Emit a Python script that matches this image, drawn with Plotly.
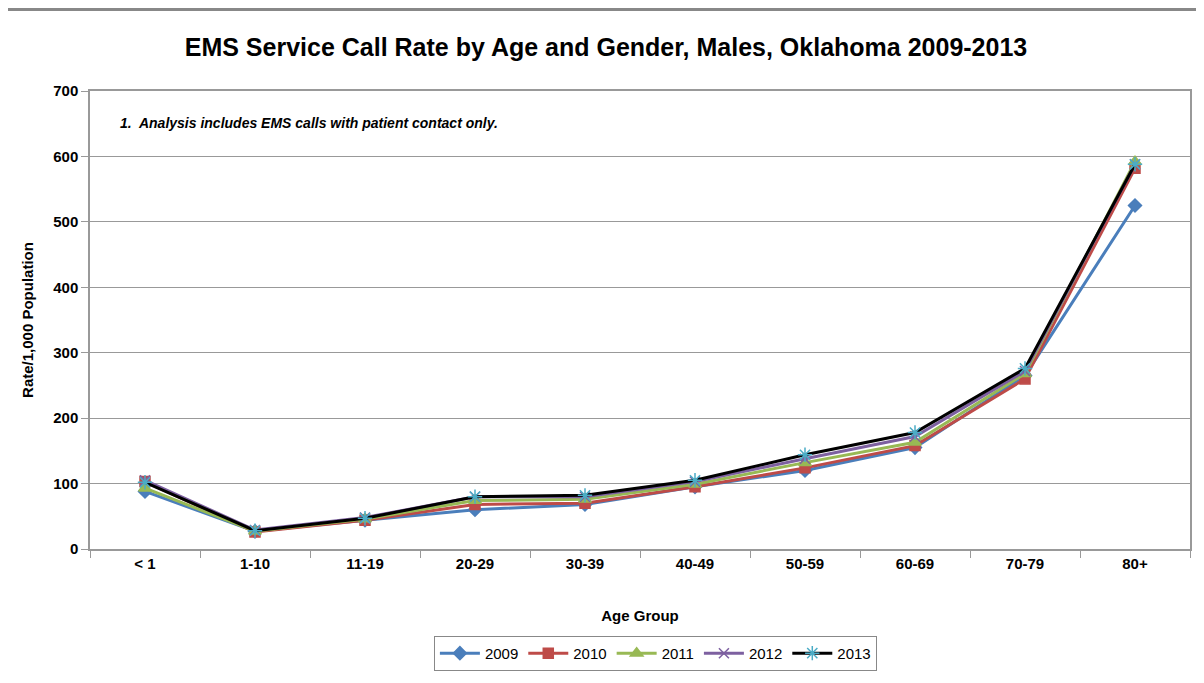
import plotly.graph_objects as go

age_groups = ["< 1", "1-10", "11-19", "20-29", "30-39", "40-49", "50-59", "60-69", "70-79", "80+"]
years = ["2009", "2010", "2011", "2012", "2013"]
rate_2009 = [88, 27, 44, 60, 68, 95, 120, 155, 265, 525]
rate_2010 = [103, 26, 44, 68, 70, 95, 124, 158, 260, 582]
rate_2011 = [93, 27, 46, 74, 76, 99, 132, 163, 268, 592]
rate_2012 = [105, 29, 48, 80, 80, 103, 138, 172, 272, 588]
rate_2013 = [102, 28, 47, 80, 82, 105, 144, 178, 276, 588]
y_ticks = [0, 100, 200, 300, 400, 500, 600, 700]

series = [rate_2009, rate_2010, rate_2011, rate_2012, rate_2013]
line_colors = ["#4A7EBB", "#BE4B48", "#98B954", "#7D60A0", "#000000"]
marker_colors = ["#4A7EBB", "#BE4B48", "#98B954", "#7D60A0", "#4BACC6"]
symbols = ["diamond", "square", "triangle-up", "x-thin-open", "asterisk-open"]
sizes = [10, 10, 11, 10, 12]

FONT = "Liberation Sans Narrow, Arial Narrow, Liberation Sans, Arial, sans-serif"

fig = go.Figure()
for yr, vals, lc, mc, sym, sz in zip(years, series, line_colors, marker_colors, symbols, sizes):
    fig.add_trace(go.Scatter(
        x=age_groups, y=vals, name=yr, mode="lines+markers",
        line=dict(color=lc, width=3),
        marker=dict(symbol=sym, size=sz, color=mc, line=dict(color=mc, width=1.5)),
    ))

fig.update_layout(
    width=1196, height=675,
    margin=dict(l=82, r=12, t=83, b=133),
    paper_bgcolor="white", plot_bgcolor="white",
    font=dict(family=FONT, color="black", size=14),
    title=dict(text="<b>EMS Service Call Rate by Age and Gender, Males, Oklahoma 2009-2013</b>",
               xref="container", x=0.5, xanchor="center", yref="container", y=0.942, yanchor="middle",
               font=dict(size=25, family=FONT, color="black")),
    showlegend=True,
    legend=dict(orientation="h", x=0.514, xanchor="center", y=-0.228, yanchor="middle",
                bordercolor="#888888", borderwidth=1, font=dict(size=15, family=FONT),
                itemwidth=40, tracegroupgap=0),
    xaxis=dict(
        type="category", showgrid=False, showline=True, linecolor="#999999", linewidth=1.5,
        mirror=True, ticks="outside", tickson="boundaries", ticklen=7, tickcolor="#999999",
        tickfont=dict(size=15, family=FONT, weight="bold"), range=[-0.5, 9.5],
        title=dict(text="<b>Age Group</b>", font=dict(size=15, family=FONT), standoff=40),
    ),
    yaxis=dict(
        range=[0, 700], tickvals=y_ticks, showgrid=True, gridcolor="#999999", gridwidth=1,
        showline=True, linecolor="#999999", linewidth=1.5, mirror=True,
        ticks="outside", ticklen=7, tickcolor="#999999", zeroline=False,
        tickfont=dict(size=15, family=FONT, weight="bold"),
        title=dict(text="<b>Rate/1,000 Population</b>", font=dict(size=15, family=FONT), standoff=16),
    ),
)

fig.add_annotation(
    text="<b><i>1.  Analysis includes EMS calls with patient contact only.</i></b>",
    xref="paper", yref="paper", x=0.0254, y=0.930, xanchor="left", yanchor="middle",
    showarrow=False, font=dict(size=14, family=FONT, color="black"),
)

fig.add_shape(
    type="rect", xref="paper", yref="paper",
    x0=-0.077, x1=1.03, y0=-0.35, y1=1.178,
    line=dict(color="#888888", width=3), fillcolor="rgba(0,0,0,0)", layer="below",
)

fig.write_html("out.html")
